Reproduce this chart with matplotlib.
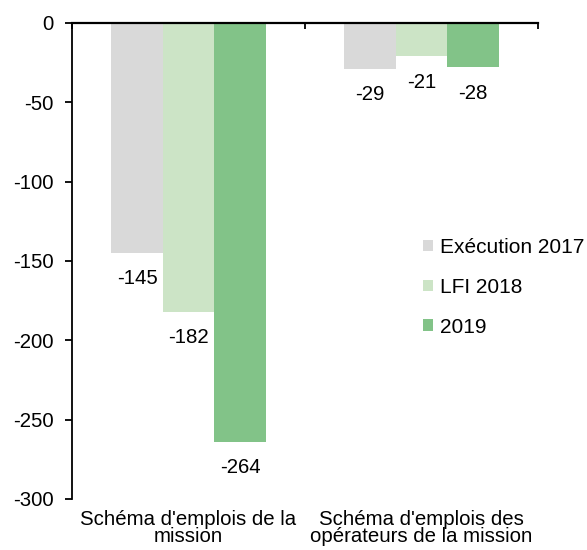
import matplotlib
matplotlib.use("Agg")
import matplotlib.pyplot as plt
from matplotlib.patches import Patch
import matplotlib.transforms as mtransforms

categories = ["Schéma d'emplois de la\nmission", "Schéma d'emplois des\nopérateurs de la mission"]
series_names = ["Exécution 2017", "LFI 2018", "2019"]
exec_2017 = [-145, -29]
lfi_2018 = [-182, -21]
y_2019 = [-264, -28]
yticks = [0, -50, -100, -150, -200, -250, -300]

colors = ["#D9D9D9", "#CCE4C6", "#82C388"]
plt.rcParams['font.family'] = ['Liberation Sans', 'DejaVu Sans']
FS = 14.7

fig = plt.figure(figsize=(5.87, 5.5), dpi=100)
ax = fig.add_axes([72/587, 1-499/550, (538-72)/587, (499-23)/550])

width = 0.221
x = list(range(len(categories)))
for i, (vals, name, col) in enumerate(zip([exec_2017, lfi_2018, y_2019], series_names, colors)):
    off = (i - 1) * width
    xs = [xi + off for xi in x]
    ax.bar(xs, vals, width=width, color=col, label=name, zorder=1)
    for xx, v in zip(xs, vals):
        ax.annotate(f"{v}", (xx, v), xytext=(0, -18.5), textcoords="offset points",
                    ha="center", va="center", fontsize=FS, color="#000000")

ax.set_xlim(-0.5, 1.5)
ax.set_ylim(-300, 0)
ax.set_yticks(yticks)
ax.set_yticklabels([str(t) for t in yticks], fontsize=FS)
ax.tick_params(axis='y', direction='out', length=5, width=1.3, pad=8)

ax.spines['top'].set_visible(False)
ax.spines['right'].set_visible(False)
ax.spines['bottom'].set_position(('data', 0))
ax.spines['bottom'].set_linewidth(1.6)
ax.spines['left'].set_linewidth(1.3)
ax.spines['bottom'].set_zorder(3)
ax.set_xticks([-0.5, 0.5, 1.5])
ax.set_xticklabels([])
ax.tick_params(axis='x', direction='out', length=4, width=1.3)

trans = mtransforms.blended_transform_factory(ax.transData, ax.transAxes)
for xi, cat in zip(x, categories):
    ax.text(xi, -0.024, cat, transform=trans, ha='center', va='top',
            fontsize=FS, linespacing=0.86, color="#000000")

handles = [Patch(facecolor=c, edgecolor='none') for c in colors]
fig.legend(handles, series_names, loc='upper left', bbox_to_anchor=(423/587, 1-238/550),
           frameon=False, fontsize=15, handlelength=0.48, handleheight=0.48,
           handletextpad=0.35, labelspacing=1.0, borderaxespad=0, borderpad=0)

fig.savefig("out.png", dpi=100)
